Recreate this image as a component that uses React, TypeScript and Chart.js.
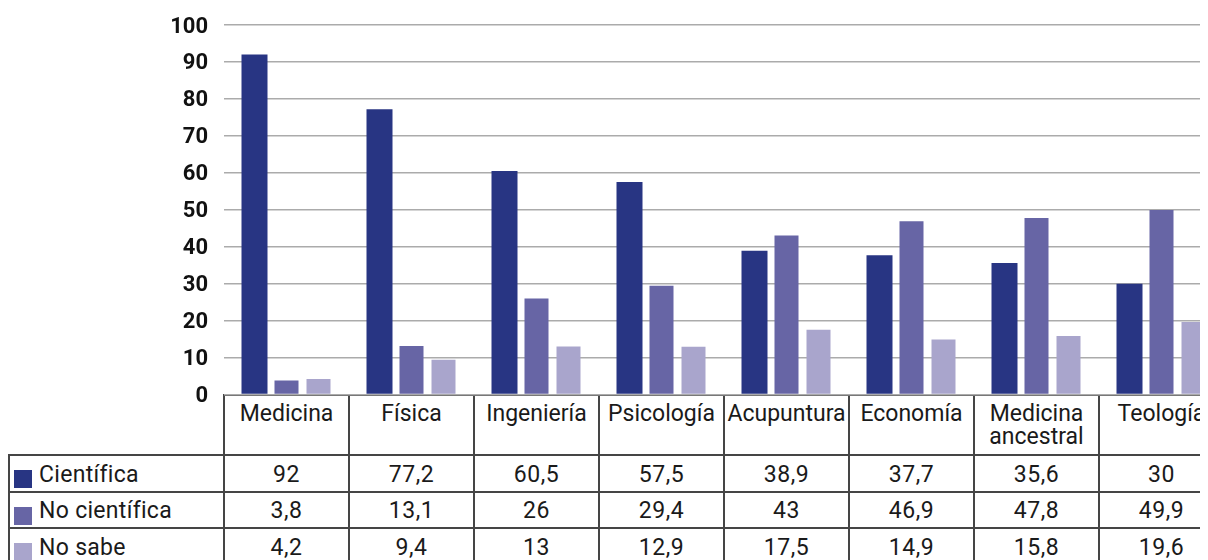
import React, { useEffect, useRef } from "react";
import { Chart, registerables } from "chart.js";

Chart.register(...registerables);

// ---- data ----
const categories = [
  "Medicina",
  "Física",
  "Ingeniería",
  "Psicología",
  "Acupuntura",
  "Economía",
  "Medicina ancestral",
  "Teología",
];
const seriesNames = ["Científica", "No científica", "No sabe"];
const cientifica = [92, 77.2, 60.5, 57.5, 38.9, 37.7, 35.6, 30];
const noCientifica = [3.8, 13.1, 26, 29.4, 43, 46.9, 47.8, 49.9];
const noSabe = [4.2, 9.4, 13, 12.9, 17.5, 14.9, 15.8, 19.6];
const yMin = 0;
const yMax = 100;
const yStep = 10;

// ---- styles ----
const seriesColors = ["#283583", "#6765a5", "#a9a5cc"];
const seriesBarPct = [0.8125, 0.75, 0.75];
const FONT = "Roboto, 'Noto Sans', sans-serif";
const LABEL_W = 216; // label column / y-axis width
const COL_W = 125; // category column width
const PLOT_TOP = 17;
const PLOT_BOTTOM = 386.5;
const CANVAS_H = 410;
const LINE = "#454545";

const fmt = (v: number) => String(v).replace(".", ",");

export default function App() {
  const canvasRef = useRef<HTMLCanvasElement | null>(null);

  useEffect(() => {
    document.documentElement.style.overflow = "hidden";
    document.body.style.overflow = "hidden";
    const canvas = canvasRef.current;
    if (!canvas) return;
    const allSeries = [cientifica, noCientifica, noSabe];
    const chart = new Chart(canvas, {
      type: "bar",
      data: {
        labels: categories,
        datasets: allSeries.map((d, i) => ({
          label: seriesNames[i],
          data: d,
          backgroundColor: seriesColors[i],
          borderWidth: 0,
          barPercentage: seriesBarPct[i],
          categoryPercentage: 96 / COL_W,
        })),
      },
      options: {
        animation: false,
        responsive: false,
        maintainAspectRatio: false,
        layout: {
          padding: { top: PLOT_TOP, bottom: CANVAS_H - PLOT_BOTTOM, left: 0, right: 0 },
        },
        plugins: {
          legend: { display: false },
          tooltip: { enabled: false },
        },
        scales: {
          x: {
            display: false,
          },
          y: {
            min: yMin,
            max: yMax,
            ticks: {
              stepSize: yStep,
              padding: 16,
              labelOffset: 2,
              color: "#111",
              font: { family: FONT, size: 22, weight: "bold" },
            },
            grid: {
              color: "#ababab",
              lineWidth: 1.5,
              drawTicks: false,
            },
            border: { display: false },
            afterFit: (s: any) => {
              s.width = LABEL_W;
              s.paddingTop = 0;
              s.paddingBottom = 0;
            },
          },
        },
      },
    });
    return () => chart.destroy();
  }, []);

  const plotRight = LABEL_W + COL_W * categories.length;
  const headerTop = Math.floor(PLOT_BOTTOM);
  const rowLines = [446, 483, 519];
  const rowRanges = [
    [448, 483],
    [485, 519],
    [521, 556],
  ];
  const allSeries = [cientifica, noCientifica, noSabe];

  const lines: React.ReactNode[] = [];
  // top border of header
  lines.push(
    <div key="top" style={{ position: "absolute", left: LABEL_W - 1, top: headerTop, width: plotRight - LABEL_W + 2, height: 2, background: LINE }} />
  );
  rowLines.forEach((y, i) => {
    lines.push(
      <div key={"h" + i} style={{ position: "absolute", left: 0, top: y, width: plotRight + 1, height: 2, background: LINE }} />
    );
  });
  // left border
  lines.push(
    <div key="lb" style={{ position: "absolute", left: 0, top: rowLines[0], width: 2, height: 120, background: LINE }} />
  );
  for (let i = 0; i <= categories.length; i++) {
    lines.push(
      <div key={"v" + i} style={{ position: "absolute", left: LABEL_W + i * COL_W - 1, top: headerTop, width: 2, height: 200, background: LINE }} />
    );
  }

  return (
    <div
      style={{
        position: "relative",
        width: 1200,
        height: 552,
        overflow: "hidden",
        fontFamily: FONT,
        color: "#1a1a1a",
        background: "#fff",
      }}
    >
      {lines}
      {categories.map((c, i) => (
        <div
          key={"c" + i}
          style={{
            position: "absolute",
            left: LABEL_W + i * COL_W,
            top: headerTop + 8,
            width: COL_W,
            fontSize: 23,
            lineHeight: "23px",
            letterSpacing: 0,
            textAlign: "center",
          }}
        >
          {c}
        </div>
      ))}
      {seriesNames.map((name, r) => {
        const [t, b] = rowRanges[r];
        return (
          <React.Fragment key={"r" + r}>
            <div
              style={{
                position: "absolute",
                left: 6,
                top: t + 14,
                width: 18,
                height: 18,
                background: seriesColors[r],
              }}
            />
            <div
              style={{
                position: "absolute",
                left: 31,
                top: t + 1,
                height: b - t,
                lineHeight: `${b - t}px`,
                fontSize: 23,
                letterSpacing: 0.3,
                whiteSpace: "nowrap",
              }}
            >
              {name}
            </div>
            {allSeries[r].map((v, i) => (
              <div
                key={"v" + r + "-" + i}
                style={{
                  position: "absolute",
                  left: LABEL_W + i * COL_W,
                  top: t + 1,
                  width: COL_W,
                  height: b - t,
                  lineHeight: `${b - t}px`,
                  fontSize: 23,
                  letterSpacing: 0.5,
                  textAlign: "center",
                }}
              >
                {fmt(v)}
              </div>
            ))}
          </React.Fragment>
        );
      })}
      <canvas
        ref={canvasRef}
        width={plotRight}
        height={CANVAS_H}
        style={{ position: "absolute", left: 0, top: 0, display: "block" }}
      />
    </div>
  );
}
